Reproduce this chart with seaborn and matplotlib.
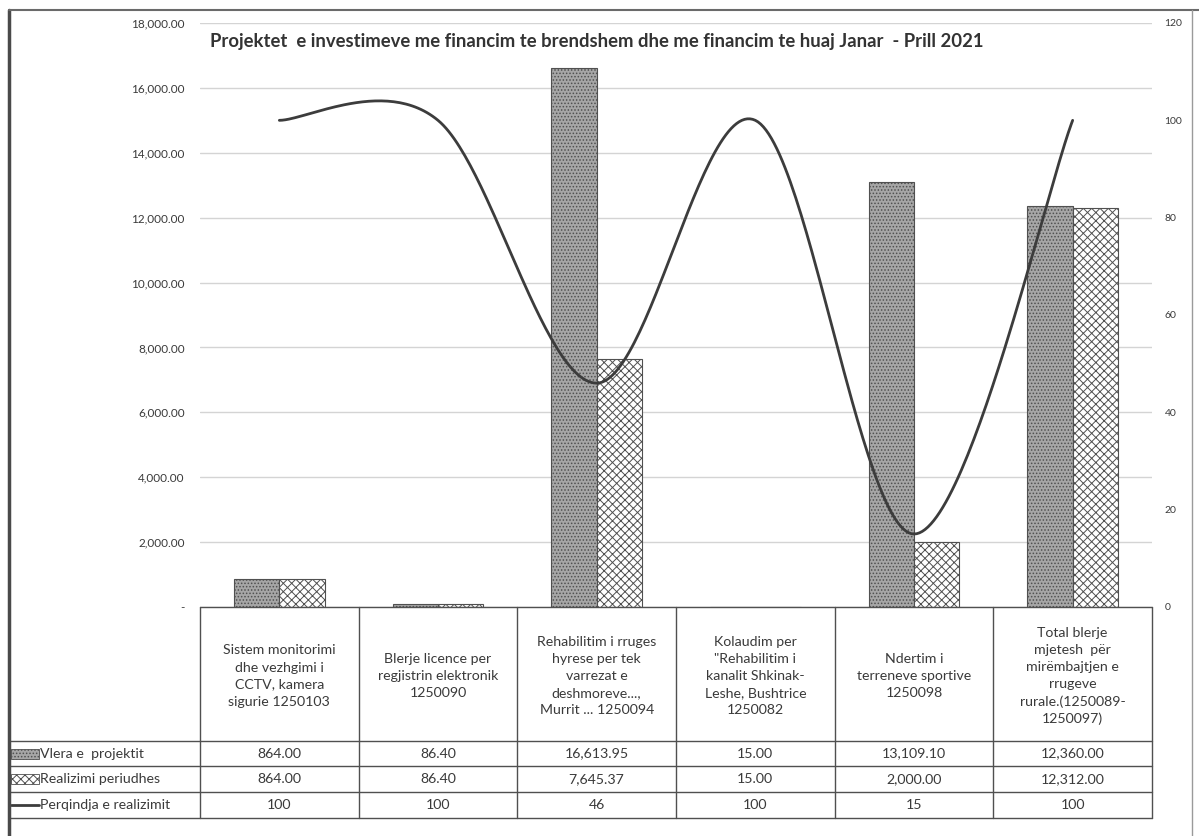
import numpy as np
import pandas as pd
import matplotlib
matplotlib.use("Agg")
import matplotlib.pyplot as plt
import matplotlib.transforms as mtransforms
from matplotlib.lines import Line2D
from matplotlib.patches import Rectangle
import seaborn as sns

# ---- data -------------------------------------------------------------
title = ("Projektet  e investimeve me financim te brendshem dhe me financim "
         "te huaj Janar  - Prill 2021")

categories = [
    "Sistem monitorimi\ndhe vezhgimi i\nCCTV, kamera\nsigurie 1250103",
    "Blerje licence per\nregjistrin elektronik\n1250090",
    "Rehabilitim i rruges\nhyrese per tek\nvarrezat e\ndeshmoreve...,\nMurrit ... 1250094",
    "Kolaudim per\n\"Rehabilitim i\nkanalit Shkinak-\nLeshe, Bushtrice\n1250082",
    "Ndertim i\nterreneve sportive\n1250098",
    "Total blerje\nmjetesh  për\nmirëmbajtjen e\nrrugeve\nrurale.(1250089-\n1250097)",
]
vlera = [864.00, 86.40, 16613.95, 15.00, 13109.10, 12360.00]
realizimi = [864.00, 86.40, 7645.37, 15.00, 2000.00, 12312.00]
perqindja = [100, 100, 46, 100, 15, 100]

series_names = ["Vlera e  projektit", "Realizimi periudhes", "Perqindja e realizimit"]
left_ticks = [0, 2000, 4000, 6000, 8000, 10000, 12000, 14000, 16000, 18000]
right_ticks = [0, 20, 40, 60, 80, 100, 120]

# ---- style ------------------------------------------------------------
W, H = 1199, 836
sns.set_theme(style="white")
plt.rcParams["font.family"] = ["Lato", "DejaVu Sans"]
plt.rcParams["hatch.linewidth"] = 0.7
TXT = "#3a3a3a"
EDGE = "#505050"
FS = 10.2

fills = ["#a6a6a6", "#ffffff"]
hatches = [".....", "xxxx"]

fig = plt.figure(figsize=(W / 100, H / 100), dpi=100)
ax = fig.add_axes([200 / W, 1 - 607 / H, 952 / W, 584 / H])

df = pd.DataFrame({
    "cat": categories * 2,
    "value": vlera + realizimi,
    "series": [series_names[0]] * len(vlera) + [series_names[1]] * len(realizimi),
})
sns.barplot(data=df, x="cat", y="value", hue="series", order=categories,
            hue_order=series_names[:2], palette=fills, width=0.57, gap=0,
            edgecolor=EDGE, linewidth=0.8, errorbar=None, legend=False,
            saturation=1, ax=ax)
for cont, h in zip(ax.containers, hatches):
    for bar in cont:
        bar.set_hatch(h)

ax.set_ylim(0, 18000)
ax.set_xlim(-0.5, len(categories) - 0.5)
ax.set_yticks(left_ticks)
ax.set_yticklabels(["-" if v == 0 else f"{v:,.2f}" for v in left_ticks])
ax.set_xticks([])
ax.set_xlabel("")
ax.set_ylabel("")
ax.yaxis.grid(True, color="#d4d4d4", linewidth=1)
ax.set_axisbelow(True)
ax.tick_params(axis="y", length=0, pad=11, labelsize=8.5, labelcolor=TXT)
for s in ax.spines.values():
    s.set_visible(False)


# ---- smoothed percentage line on the secondary axis -------------------
def smooth_curve(xs, ys, n=60):
    """Cubic Bezier smoothing through every point (Catmull-Rom tangents)."""
    p = np.column_stack([xs, ys]).astype(float)
    p_ext = np.vstack([p[0], p, p[-1]])
    out = []
    for i in range(len(p) - 1):
        p0, p1, p2, p3 = p_ext[i], p_ext[i + 1], p_ext[i + 2], p_ext[i + 3]
        c1 = p1 + (p2 - p0) / 6
        c2 = p2 - (p3 - p1) / 6
        t = np.linspace(0, 1, n)[:, None]
        seg = ((1 - t) ** 3) * p1 + 3 * ((1 - t) ** 2) * t * c1 \
            + 3 * (1 - t) * t ** 2 * c2 + t ** 3 * p2
        out.append(seg if i == 0 else seg[1:])
    out = np.vstack(out)
    return out[:, 0], out[:, 1]


ax2 = ax.twinx()
cx, cy = smooth_curve(np.arange(len(perqindja)), perqindja)
ax2.plot(cx, cy, color="#3c3c3c", linewidth=2)
ax2.set_ylim(0, 120)
ax2.set_yticks(right_ticks)
ax2.set_yticklabels([str(v) for v in right_ticks])
ax2.tick_params(axis="y", length=0, pad=9, labelsize=7.5, labelcolor=TXT)
ax2.grid(False)
for s in ax2.spines.values():
    s.set_visible(False)

# ---- title ------------------------------------------------------------
fig.text(597 / W, 1 - 42 / H, title, ha="center", va="center",
         fontsize=13.3, fontweight="bold", color="#333333")

# ---- data table below the plot ----------------------------------------
def fy(px):
    return 1 - px / H


def fx(px):
    return px / W


blend = mtransforms.blended_transform_factory(ax.transData, fig.transFigure)
pos = ax.get_position()
row_edges = [607, 741, 766, 792, 818]
n = len(categories)

# column separators
for i in range(n + 1):
    fig.add_artist(Line2D([i - 0.5, i - 0.5], [fy(607), fy(818)],
                          transform=blend, color=EDGE, lw=1))
# header top line
fig.add_artist(Line2D([pos.x0, pos.x1], [fy(607), fy(607)],
                      transform=fig.transFigure, color=EDGE, lw=1))
# data rows span the legend column as well
for y in row_edges[1:]:
    fig.add_artist(Line2D([fx(9), pos.x1], [fy(y), fy(y)],
                          transform=fig.transFigure, color=EDGE, lw=1))

# category headers
for i, c in enumerate(categories):
    fig.text(i, fy((row_edges[0] + row_edges[1]) / 2 + 2), c, transform=blend,
             ha="center", va="center", fontsize=FS, color=TXT,
             linespacing=1.5)

# value rows
rows = [
    [f"{v:,.2f}" for v in vlera],
    [f"{v:,.2f}" for v in realizimi],
    [str(v) for v in perqindja],
]
for r, vals in enumerate(rows):
    yc = fy((row_edges[r + 1] + row_edges[r + 2]) / 2)
    for i, s in enumerate(vals):
        fig.text(i, yc, s, transform=blend, ha="center", va="center",
                 fontsize=FS, color=TXT)
    # legend key + series name
    if r < 2:
        fig.add_artist(Rectangle((fx(11), yc - 5 / H), 28 / W, 10 / H,
                                 transform=fig.transFigure, facecolor=fills[r],
                                 edgecolor=EDGE, hatch=hatches[r], lw=0.6))
    else:
        fig.add_artist(Line2D([fx(11), fx(39)], [yc, yc],
                              transform=fig.transFigure, color="#3c3c3c", lw=2))
    fig.text(fx(40), yc, series_names[r], ha="left", va="center",
             fontsize=FS, color=TXT)

# ---- outer frame --------------------------------------------------------
fig.add_artist(Line2D([fx(9), fx(9)], [fy(10), fy(836)],
                      transform=fig.transFigure, color="#4a4a4a", lw=2.5))
fig.add_artist(Line2D([fx(9), fx(1199)], [fy(10), fy(10)],
                      transform=fig.transFigure, color="#6a6a6a", lw=1.5))
fig.add_artist(Line2D([fx(1192), fx(1192)], [fy(10), fy(836)],
                      transform=fig.transFigure, color="#9a9a9a", lw=1))

fig.savefig("out.png", dpi=100, facecolor="white")
